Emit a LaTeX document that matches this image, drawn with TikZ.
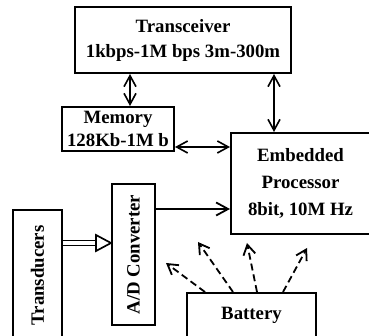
\documentclass[tikz,border=0pt]{standalone}
\usepackage{fontspec}
\setmainfont{Liberation Serif}
\usetikzlibrary{arrows.meta,calc}
\begin{document}
\begin{tikzpicture}[x=1pt,y=-1pt,
  box/.style={draw,line width=2pt,inner sep=0pt,align=center,font=\bfseries\fontsize{18.8}{25}\selectfont},
  dbl/.style={line width=1.6pt,{Straight Barb[length=11pt,width=12pt]}-{Straight Barb[length=11pt,width=12pt]}},
  sgl/.style={line width=1.8pt,-{Straight Barb[length=12pt,width=13pt]}},
  dsh/.style={line width=1.8pt,dash pattern=on 7pt off 4pt,-{Straight Barb[length=10pt,width=12pt]}}]
\useasboundingbox (0,0) rectangle (369,336);
\clip (0,0) rectangle (369,336);
\node[box,minimum width=216pt,minimum height=66pt] (tx) at (183,40) {Transceiver\\1kbps-1M bps 3m-300m};
\node[box,minimum width=112pt,minimum height=44pt,font=\bfseries\fontsize{18.8}{23}\selectfont] (mem) at (118,129) {Memory\\128Kb-1M b};
\node[box,minimum width=139pt,minimum height=101pt,font=\bfseries\fontsize{18.8}{27}\selectfont] (proc) at (300.5,183.5) {Embedded\\Processor\\8bit, 10M Hz};
\node[box,rotate=90,minimum width=141pt,minimum height=43pt] (ad) at (133.5,254.5) {A/D Converter};
\node[box,rotate=90,minimum width=131pt,minimum height=49pt] (td) at (37.5,275.5) {Transducers};
\node[box,minimum width=129pt,minimum height=45pt] (bat) at (251.5,315.5) {Battery};
% reference coordinates
\coordinate (xa) at (130,0);
\coordinate (xb) at (274,0);
\coordinate (ya) at (0,147);
\coordinate (yb) at (0,209);
\coordinate (yc) at (0,243);
\draw[dbl] (mem.north -| xa) -- (tx.south -| xa);
\draw[dbl] (proc.north -| xb) -- (tx.south -| xb);
\draw[dbl] (mem.east |- ya) -- (proc.west |- ya);
\draw[sgl] (ad.south |- yb) -- (proc.west |- yb);
% hollow arrow
\coordinate (ha) at (ad.north |- yc);
\draw[line width=1.7pt,double,double distance=3.5pt] (td.south |- yc) -- ($(ha)+(-15,0)$);
\draw[line width=1.7pt,fill=white,line join=miter] ($(ha)+(-15,-8)$) -- (ha) -- ($(ha)+(-15,8)$) -- cycle;
% dashed battery arrows
\coordinate (s1) at (205,0); \coordinate (e1) at (166,263);
\coordinate (s2) at (233,0); \coordinate (e2) at (198,242);
\coordinate (s3) at (257,0); \coordinate (e3) at (247,243);
\coordinate (s4) at (283,0); \coordinate (e4) at (307,248);
\draw[dsh] (bat.north -| s1) -- (e1);
\draw[dsh] (bat.north -| s2) -- (e2);
\draw[dsh] (bat.north -| s3) -- (e3);
\draw[dsh] (bat.north -| s4) -- (e4);
\end{tikzpicture}
\end{document}
